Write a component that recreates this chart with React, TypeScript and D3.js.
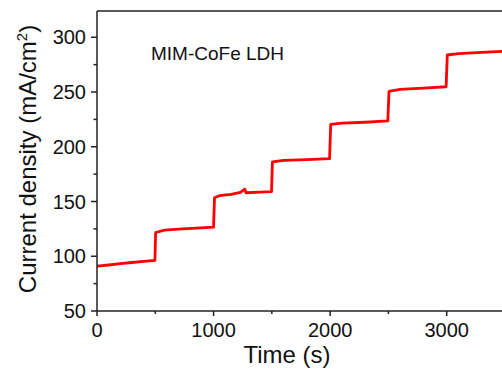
import React from "react";
import * as d3 from "d3";

const timeValues = [0, 100, 200, 300, 400, 497, 503, 580, 700, 850, 1000, 1008, 1050, 1150, 1230, 1268, 1278, 1400, 1497, 1505, 1600, 1800, 1995, 2005, 2100, 2300, 2495, 2505, 2600, 2800, 2995, 3005, 3100, 3300, 3500];
const currentValues = [91, 92, 93.2, 94.3, 95.3, 96.2, 121.7, 123.8, 124.8, 125.7, 126.6, 153.5, 155.3, 156.6, 158.3, 161.3, 158, 158.5, 159, 186.3, 187.5, 188.3, 189.1, 220.4, 221.5, 222.4, 223.6, 250.6, 252.4, 253.5, 254.8, 283.8, 285, 286.3, 287.2];
const xMajorTicks = [0, 1000, 2000, 3000];
const xMinorTicks = [500, 1500, 2500];
const yMajorTicks = [50, 100, 150, 200, 250, 300];
const yMinorTicks = [75, 125, 175, 225, 275];
const annotation = "MIM-CoFe LDH";

export default function App() {
  const W = 502, H = 372;
  const left = 97, right = 505, top = 11, bottom = 311;
  const x = d3.scaleLinear().domain([0, 3500]).range([left, right]);
  const y = d3.scaleLinear().domain([50, 324]).range([bottom, top]);
  const data = timeValues.map((t, i) => [t, currentValues[i]] as [number, number]);
  const line = d3.line<[number, number]>().x(d => x(d[0])).y(d => y(d[1]));
  const font = "'Liberation Sans', Arial, sans-serif";
  const axisColor = "#222";
  return (
    <svg width={W} height={H} style={{ position: "absolute", left: 0, top: 0, background: "#fff" }} fontFamily={font}>
      <defs>
        <clipPath id="plot">
          <rect x={left} y={top} width={right - left} height={bottom - top} />
        </clipPath>
      </defs>
      <path d={line(data) || ""} fill="none" stroke="#ff0000" strokeWidth={2.8} strokeLinejoin="round" clipPath="url(#plot)" />
      {/* axes */}
      <line x1={left} x2={right} y1={top} y2={top} stroke={axisColor} strokeWidth={1.5} />
      <line x1={left} x2={left} y1={top} y2={bottom} stroke={axisColor} strokeWidth={1.5} />
      <line x1={left} x2={right} y1={bottom} y2={bottom} stroke={axisColor} strokeWidth={1.5} />
      {yMajorTicks.map(v => (
        <g key={"ym" + v}>
          <line x1={left - 6} x2={left} y1={y(v)} y2={y(v)} stroke={axisColor} strokeWidth={1.5} />
          <text x={left - 11} y={y(v)} dy="0.36em" textAnchor="end" fontSize={20} fill="#111">{v}</text>
        </g>
      ))}
      {yMinorTicks.map(v => (
        <line key={"yn" + v} x1={left - 3.5} x2={left} y1={y(v)} y2={y(v)} stroke={axisColor} strokeWidth={1.5} />
      ))}
      {xMajorTicks.map(v => (
        <g key={"xm" + v}>
          <line x1={x(v)} x2={x(v)} y1={bottom} y2={bottom + 5} stroke={axisColor} strokeWidth={1.5} />
          <text x={x(v)} y={337} textAnchor="middle" fontSize={20} fill="#111">{v}</text>
        </g>
      ))}
      {xMinorTicks.map(v => (
        <line key={"xn" + v} x1={x(v)} x2={x(v)} y1={bottom} y2={bottom + 3} stroke={axisColor} strokeWidth={1.5} />
      ))}
      <text x={287} y={363} textAnchor="middle" fontSize={24} fill="#111">Time (s)</text>
      <text transform={`translate(36,${(25 + 293) / 2}) rotate(-90)`} textAnchor="middle" fontSize={24} fill="#111">
        Current density (mA/cm<tspan fontSize={15} dy={-9}>2</tspan><tspan dy={9}>)</tspan>
      </text>
      <text x={151} y={60} fontSize={19} fill="#111">{annotation}</text>
    </svg>
  );
}
